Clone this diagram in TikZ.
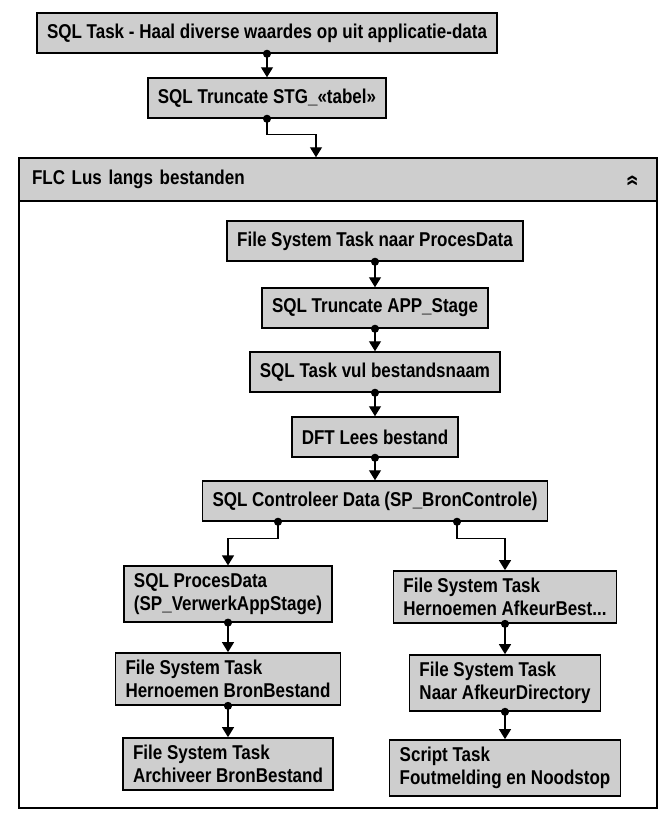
\documentclass[tikz,border=0pt]{standalone}
\usepackage{fontspec}
\setmainfont{Liberation Sans}[FakeStretch=0.85]
\usetikzlibrary{arrows.meta}
\definecolor{taskgray}{RGB}{206,206,206}

\begin{document}
\begin{tikzpicture}[x=1pt, y=-1pt,
    task/.style={draw, line width=1.5pt, fill=taskgray, minimum height=40pt, inner xsep=10pt, inner ysep=7.5pt, font=\fontsize{20}{22.5}\selectfont\bfseries, align=left},
    flow/.style={line width=1.3pt, {Circle[length=8pt]}-{Triangle[length=10pt,width=12pt]}, shorten <=-4pt}]
    \useasboundingbox (0,0) rectangle (663,814);
    \node[draw, line width=1.5pt, minimum width=638pt, minimum height=650pt] (flc) at (338,483) {};
    \node[draw, line width=1.5pt, fill=taskgray, anchor=north west, text width=612pt, inner xsep=13pt, minimum height=43pt, font=\fontsize{20}{22.5}\selectfont\bfseries] (flchead) at (flc.north west) {FLC Lus langs bestanden};
    \node[rotate=90, font=\fontsize{24}{24}\selectfont\bfseries] (flcchev) at (633,181) {»};

    \node[task] (haal) at (267,33) {SQL Task - Haal diverse waardes op uit applicatie-data};
    \node[task] (stg) at (267,98) {SQL Truncate STG\_«tabel»};

    \node[task] (naarpd) at (375,241) {File System Task naar ProcesData};
    \node[task] (trapp) at (375,308) {SQL Truncate APP\_Stage};
    \node[task] (vul) at (375,372) {SQL Task vul bestandsnaam};
    \node[task] (lees) at (375,437) {DFT Lees bestand};
    \node[task] (contr) at (375,501) {SQL Controleer Data (SP\_BronControle)};

    \node[task] (verwerk) at (228,594) {SQL ProcesData\\(SP\_VerwerkAppStage)};
    \node[task] (hernbron) at (228,679) {File System Task\\Hernoemen BronBestand};
    \node[task] (archief) at (228,764) {File System Task\\Archiveer BronBestand};
    \node[task] (hernafk) at (505,597) {File System Task\\Hernoemen AfkeurBest...};
    \node[task] (naarafk) at (505,683) {File System Task\\Naar AfkeurDirectory};
    \node[task] (noodstop) at (505,768) {Script Task\\Foutmelding en Noodstop};

    \draw[flow] (haal.south) -- (stg.north);
    \draw[flow] (stg.south) -- ++(0,16) -| ([xshift=-22pt]flc.north);
    \draw[flow] (naarpd.south) -- (trapp.north);
    \draw[flow] (trapp.south) -- (vul.north);
    \draw[flow] (vul.south) -- (lees.north);
    \draw[flow] (lees.south) -- (contr.north);
    \draw[flow] ([xshift=-97pt]contr.south) -- ++(0,17) -| (verwerk.north);
    \draw[flow] ([xshift=82pt]contr.south) -- ++(0,17) -| (hernafk.north);
    \draw[flow] (verwerk.south) -- (hernbron.north);
    \draw[flow] (hernbron.south) -- (archief.north);
    \draw[flow] (hernafk.south) -- (naarafk.north);
    \draw[flow] (naarafk.south) -- (noodstop.north);
\end{tikzpicture}
\end{document}
